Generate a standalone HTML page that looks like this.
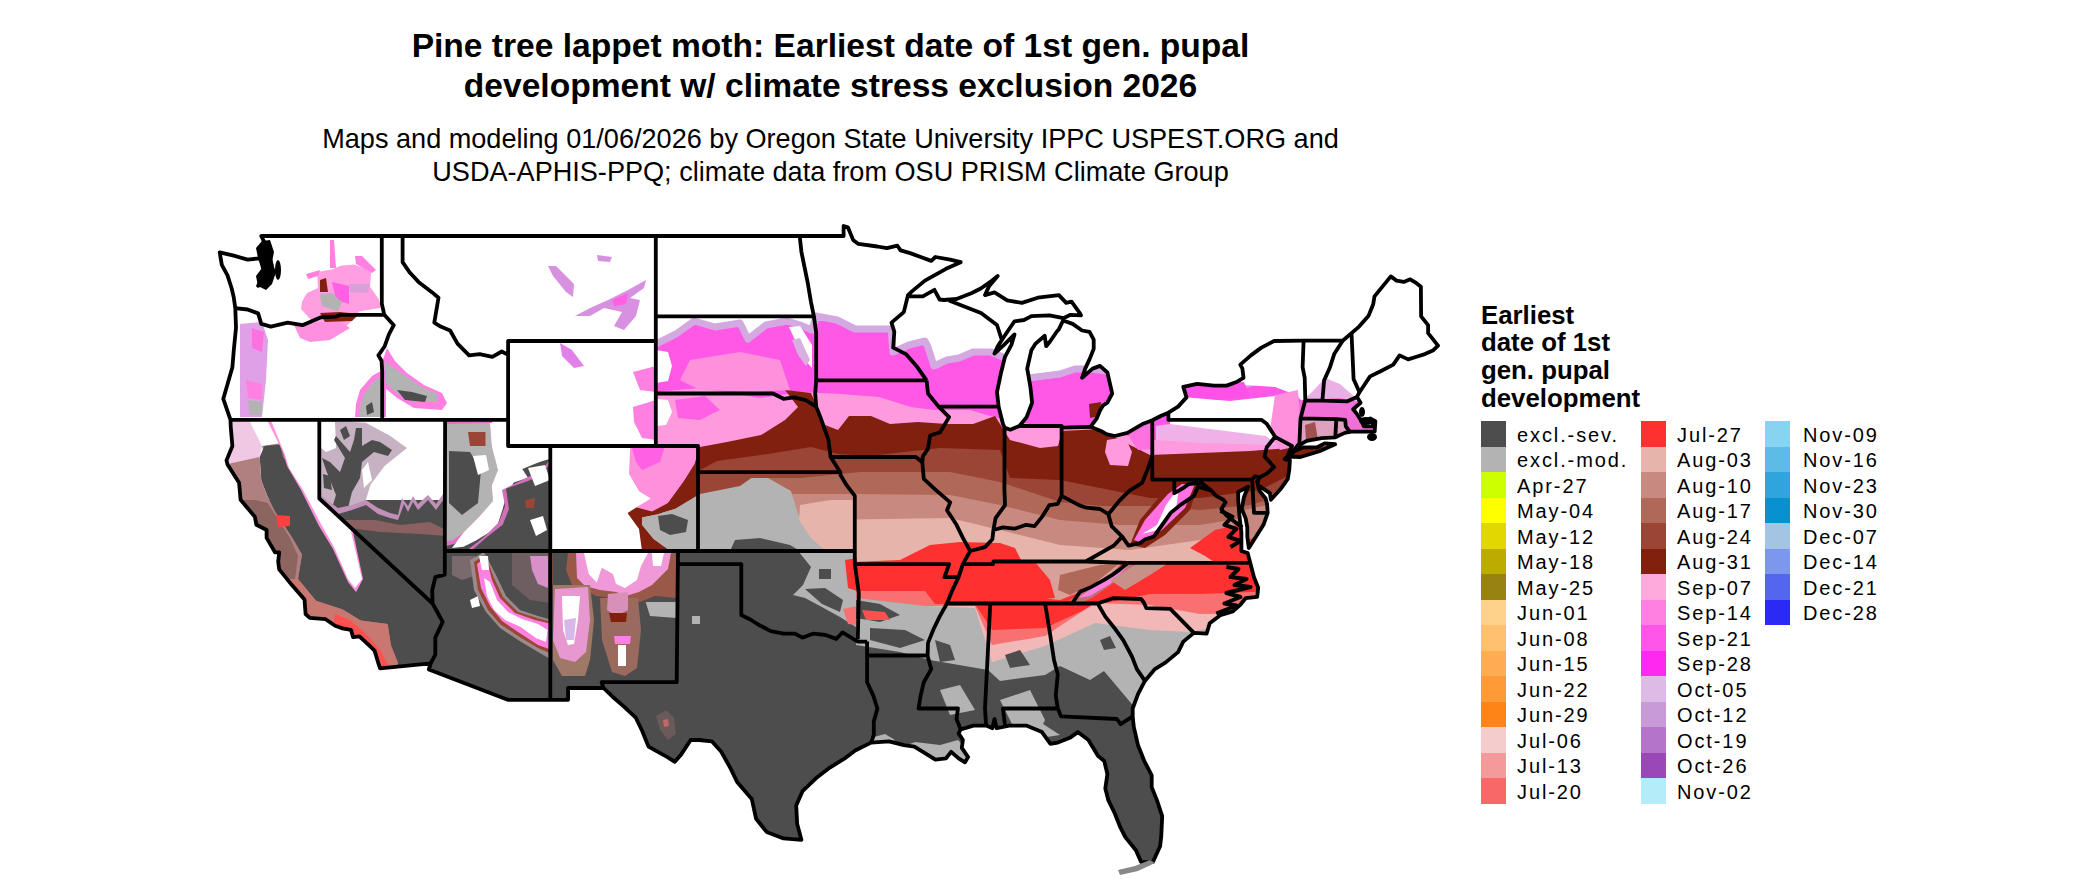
<!DOCTYPE html>
<html><head><meta charset="utf-8"><style>
html,body{margin:0;padding:0;background:#fff;}
body{width:2100px;height:892px;position:relative;overflow:hidden;font-family:"Liberation Sans",sans-serif;}
.t{position:absolute;white-space:nowrap;color:#000;}
.title{font-weight:bold;font-size:33.6px;left:0;width:1661px;text-align:center;}
.sub{font-size:27.1px;left:0;width:1661px;text-align:center;color:#000;}
.lt{position:absolute;left:1481px;font-weight:bold;font-size:25.8px;line-height:27.9px;top:301.5px;}
.sw{position:absolute;width:25px;height:25.6px;}
.lb{position:absolute;font-size:20px;letter-spacing:1.9px;line-height:20px;white-space:nowrap;color:#000;}
svg{position:absolute;left:0;top:0;}
</style></head><body>
<div class="t title" style="top:26.8px">Pine tree lappet moth: Earliest date of 1st gen. pupal</div>
<div class="t title" style="top:66.8px">development w/ climate stress exclusion 2026</div>
<div class="t sub" style="top:122.8px">Maps and modeling 01/06/2026 by Oregon State University IPPC USPEST.ORG and</div>
<div class="t sub" style="top:155.9px">USDA-APHIS-PPQ; climate data from OSU PRISM Climate Group</div>
<svg width="2100" height="892" viewBox="0 0 2100 892">
<defs><clipPath id="us"><path d="M261.3 236.0L843.6 236.0L843.6 226.0L847.9 227.3L853.1 239.9L858.4 243.9L877.4 246.5L886.9 248.1L897.4 245.7L900.6 250.4L910.1 253.1L920.7 257.0L931.2 260.9L935.4 257.0L950.2 259.6L960.7 262.2L946.0 268.8L924.9 280.6L912.2 291.1L908.0 295.1L910.1 296.4L922.8 296.4L934.4 289.8L939.6 299.5L943.9 300.0L956.5 299.0L971.3 293.2L980.8 288.5L990.3 281.9L997.7 275.9L989.2 285.9L985.0 295.1L994.5 292.4L1007.2 300.3L1021.9 302.9L1037.8 297.7L1058.9 295.1L1066.2 302.9L1071.5 301.6L1080.0 313.4L1081.0 315.3L1070.5 314.8L1063.5 318.2L1049.4 315.3L1031.4 316.1L1024.0 320.0L1014.5 321.3L1008.2 330.5L1002.9 338.4L997.7 346.2L994.5 353.6L1004.0 344.9L1014.5 334.4L1011.4 344.9L1005.0 356.8L1000.8 373.8L997.0 392.2L998.7 406.9L1002.9 423.7L1004.6 427.6L1010.3 429.7L1019.4 426.0L1026.6 417.1L1032.1 402.7L1030.4 386.9L1027.2 368.6L1031.4 350.2L1035.6 343.6L1044.7 335.8L1046.2 346.2L1050.4 341.0L1056.7 331.8L1058.9 329.2L1063.1 320.5L1072.6 323.9L1082.1 330.5L1089.5 331.8L1093.7 339.7L1093.7 348.9L1089.5 359.4L1085.2 368.6L1082.1 377.8L1092.6 368.6L1100.0 365.9L1107.4 372.5L1109.5 381.7L1112.2 393.5L1107.4 402.7L1103.2 405.3L1100.0 410.6L1096.8 418.4L1090.5 426.8L1102.1 431.6L1106.3 434.2L1114.8 436.0L1127.4 432.9L1143.3 423.7L1152.3 420.3L1161.2 415.8L1168.4 412.7L1178.1 406.6L1186.5 397.4L1183.3 386.9L1197.1 383.8L1213.9 385.6L1226.6 385.6L1237.2 381.7L1243.5 377.8L1242.4 368.6L1240.3 364.6L1250.9 355.4L1261.4 347.6L1274.1 341.0L1303.6 340.7L1342.7 340.7L1351.5 333.1L1359.1 326.6L1368.4 316.1L1373.2 304.2L1374.5 296.4L1390.8 276.4L1396.5 280.6L1403.8 281.9L1410.2 279.3L1416.5 283.2L1420.9 286.7L1421.1 316.3L1428.1 325.2L1428.1 333.1L1431.3 337.1L1438.0 345.7L1433.4 350.2L1424.9 354.1L1416.5 356.8L1408.1 359.4L1399.6 355.4L1393.3 364.6L1380.6 371.2L1370.1 376.4L1364.8 384.3L1359.5 392.2L1357.0 396.9L1360.6 402.7L1353.2 409.2L1356.4 413.2L1361.6 421.1L1363.8 426.3L1374.3 426.3L1370.1 418.4L1375.4 421.1L1374.7 431.6L1361.6 431.6L1351.1 431.6L1344.8 432.9L1335.3 437.3L1321.6 438.1L1306.8 440.8L1297.3 446.0L1294.1 449.9L1289.9 453.9L1284.6 459.1L1289.9 460.4L1289.3 469.6L1287.8 478.8L1280.4 489.3L1270.9 499.8L1269.9 493.2L1258.2 485.4L1257.2 481.4L1259.3 490.6L1265.6 498.5L1267.1 504.3L1267.7 512.9L1263.5 524.8L1256.1 536.6L1248.8 547.9L1247.3 536.6L1247.3 527.4L1245.6 518.2L1241.8 509.0L1243.9 497.2L1248.1 486.7L1238.2 491.9L1238.2 499.8L1239.3 514.2L1240.3 523.4L1241.4 532.6L1241.4 541.8L1241.4 551.0L1247.7 553.1L1250.2 562.8L1254.0 577.2L1258.2 587.8L1257.2 596.9L1245.6 598.2L1240.3 604.8L1232.9 611.4L1220.3 615.3L1209.7 623.2L1206.6 633.7L1193.9 632.9L1183.3 641.6L1178.1 652.1L1165.4 662.6L1154.9 669.1L1144.9 680.9L1138.0 694.1L1132.7 708.5L1132.7 716.4L1133.8 726.9L1138.0 745.2L1144.3 761.0L1151.7 775.4L1151.7 787.2L1157.0 800.4L1162.2 816.1L1161.2 837.1L1160.1 846.3L1155.9 855.5L1152.8 862.1L1141.1 862.1L1135.9 850.2L1125.3 837.1L1120.0 826.6L1114.8 813.5L1108.4 800.4L1105.3 788.6L1107.4 774.1L1104.2 761.0L1097.9 755.8L1088.4 740.0L1077.8 732.1L1070.5 737.4L1057.8 742.6L1050.4 743.9L1042.0 732.1L1026.2 725.6L1009.3 725.6L996.6 728.2L994.5 719.0L992.4 728.2L986.1 725.6L973.4 725.6L960.7 729.5L958.6 733.4L962.9 740.0L961.8 747.9L968.1 757.1L965.0 762.3L958.6 758.4L951.2 751.8L946.0 758.4L935.4 759.7L924.9 753.1L914.3 746.6L903.8 745.2L889.0 741.3L871.1 742.6L855.2 750.5L844.7 758.4L829.9 767.6L816.2 778.1L802.5 791.2L796.2 805.6L797.2 824.0L801.4 839.8L783.5 838.4L766.6 831.9L756.1 818.8L751.8 799.1L737.1 782.0L730.8 768.9L721.3 751.8L711.8 741.3L699.1 740.0L690.7 740.0L681.2 754.4L674.8 761.8L667.4 757.1L648.5 746.6L642.1 730.8L635.8 717.7L623.1 705.9L612.6 696.7L603.5 688.0L568.1 688.0L568.1 699.8L507.7 699.8L428.8 669.4L430.7 663.4L380.1 668.3L378.4 663.4L374.6 650.7L367.8 644.2L359.4 636.3L353.1 637.1L350.9 629.8L342.5 628.4L335.1 625.8L325.6 619.2L309.8 617.9L305.6 614.0L304.5 599.6L291.9 585.1L279.2 569.4L278.2 561.5L279.2 552.3L275.0 552.3L266.6 537.9L266.6 530.0L256.4 524.8L254.9 516.9L240.6 499.8L239.1 482.8L227.5 464.4L226.5 460.4L232.4 446.0L230.7 426.3L230.5 419.8L223.3 398.8L227.5 384.3L232.4 367.2L233.8 350.2L236.0 327.9L235.3 308.2L233.8 297.7L231.7 288.5L227.5 275.4L221.8 264.9L219.7 252.3L233.8 255.7L247.6 259.6L260.2 258.3L264.4 272.8L258.1 285.9L268.7 280.6L271.8 264.9L267.6 249.1ZM1289.5 456.5L1300.5 457.0L1319.4 451.2L1335.1 444.2L1324.7 443.4L1317.3 447.3L1303.6 447.3L1294.1 451.2L1289.5 456.5Z"/></clipPath></defs>
<g clip-path="url(#us)">
<path fill="#ff58e6" d="M656 344L676 334L694 321L715 327L740 323L748 339L766 325L787 321L800 325L812 330L816 316L837 320L855 329L891 329L893 352L909 345L925 341L928 347L934 366L947 360L959 358L973 352L991 352L1010 360L1028 378L1060 374L1075 369L1091 369L1107 371L1130 400L1180 388L1244 385L1260 380L1300 340L1320 330L1460 330L1460 900L677 900L677 551L628 551L628 447L656 447L656 300Z"/>
<path fill="none" stroke="#d4a8e0" stroke-width="7" stroke-linejoin="round" d="M656 344L676 334L694 321L715 327L740 323L748 339L766 325L787 321L800 325L812 330L816 316L837 320L855 329L891 329L893 352L909 345L925 341L928 347L934 366L947 360L959 358L973 352L991 352L1010 360L1028 378L1060 374L1075 369L1091 369L1107 371L1130 400L1180 388L1244 385L1260 380L1300 340L1320 330L1460 330"/>
<path fill="#ff9ade" d="M656 392L700 388L760 398L800 392L840 394L879 397L911 407L934 410L970 410L997 418L1030 424L1060 425L1100 430L1150 440L1200 440L1260 440L1300 440L1460 440L1460 900L677 900L677 551L628 551L628 447L656 447L656 300Z"/>
<path fill="#822010" d="M656 515L668 503L684 481L694 465L700 447L727 442L761 435L785 420L798 407L785 390L811 393L825 425L838 430L849 416L871 416L890 424L918 422L947 424L973 424L995 416L1010 440L1040 448L1058 446L1062 431L1100 429L1112 436L1150 455L1200 453L1250 451L1290 448L1305 445L1340 440L1460 440L1460 900L677 900L677 551L628 551L628 447L656 447L656 300Z"/>
<path fill="#9a4535" d="M656 530L700 470L717 461L768 454L811 447L838 454L869 456L940 448L1000 450L1010 478L1060 480L1120 492L1150 498L1200 498L1260 490L1300 470L1460 470L1460 900L677 900L677 551L628 551L628 447L656 447L656 300Z"/>
<path fill="#b06858" d="M656 545L700 484L760 478L800 478L860 472L950 472L1000 482L1060 502L1100 506L1150 506L1200 510L1250 505L1300 490L1460 490L1460 900L677 900L677 551L628 551L628 447L656 447L656 300Z"/>
<path fill="#c88a80" d="M656 560L700 500L760 494L850 494L950 495L1000 505L1060 520L1120 525L1200 525L1260 515L1460 515L1460 900L677 900L677 551L628 551L628 447L656 447L656 300Z"/>
<path fill="#e6b4aa" d="M656 575L760 515L820 520L950 518L1000 530L1060 545L1130 550L1200 540L1260 525L1460 525L1460 900L677 900L677 551L628 551L628 447L656 447L656 300Z"/>
<path fill="#ff3030" d="M845 556L852 562L900 560L930 545L960 542L1000 543L1015 548L1022 562L1060 563L1100 563L1150 562L1190 548L1215 530L1250 522L1460 522L1460 900L845 900Z"/>
<path fill="#f87070" d="M845 591L925 591L935 604L975 604L992 630L1045 628L1095 605L1150 594L1200 594L1250 592L1460 592L1460 900L845 900Z"/>
<path fill="#f2b8b8" d="M845 610L925 606L975 606L992 645L1045 636L1095 603L1150 605L1200 614L1260 614L1460 614L1460 900L845 900Z"/>
<path fill="#b3b3b3" d="M856 598L925 606L975 608L992 662L1045 646L1095 623L1150 630L1190 632L1240 622L1460 622L1460 900L856 900Z"/>
<path fill="#ffffff" d="M789 327L800 326L812 345L812 368L805 360L795 340Z"/>
<path fill="#d8b0e0" d="M792 340L800 338L810 360L806 366L798 355Z"/>
<path fill="#ffffff" d="M656 350L668 352L672 366L668 381L656 383Z"/>
<path fill="#ffffff" d="M656 399L668 400L672 412L666 425L656 426Z"/>
<path fill="#ff90dc" d="M690 360L740 352L780 360L790 390L760 392L700 390L680 380Z"/>
<path fill="#ff60e4" d="M675 400L705 396L720 410L700 420L678 418Z"/>
<path fill="#b3b3b3" d="M656 516L694 494L734 478L768 478L791 491L798 514L811 538L825 550L853 552L853 556L656 556Z"/>
<path fill="#4d4d4d" d="M628 551L799 551L856 551L856 645L900 652L930 660L988 670L1000 681L1045 675L1060 666L1090 680L1104 671L1120 690L1141 715L1160 735L1460 735L1460 900L628 900Z"/>
<path fill="#b3b3b3" d="M799 552L856 552L856 627L840 617L820 606L805 598L793 595L803 585L811 567Z"/>
<path fill="#4d4d4d" d="M819 569L831 569L831 579L819 579Z"/>
<path fill="#4d4d4d" d="M805 589L825 588L843 600L840 612L822 604Z"/>
<path fill="#ff3030" d="M845 560L857 558L857 591L848 588Z"/>
<path fill="#f87070" d="M843 609L857 606L857 625L848 624Z"/>
<path fill="#4d4d4d" d="M856 600L880 604L900 615L880 622L856 618Z"/>
<path fill="#4d4d4d" d="M870 628L905 630L925 640L900 648L870 640Z"/>
<path fill="#ff5050" d="M862 610L885 612L890 620L866 620Z"/>
<path fill="#4d4d4d" d="M730 551L735 540L760 538L790 545L800 551Z"/>
<path fill="#9a4535" d="M698 472L760 472L740 486L700 494L698 494Z"/>
<path fill="#e6b4aa" d="M799 520L811 538L825 550L853 552L853 500L830 500L800 505Z"/>
<path fill="#4d4d4d" d="M658 516L672 514L688 520L686 532L670 535L660 530Z"/>
<path fill="#4d4d4d" d="M935 640L950 645L955 660L940 662Z"/>
<path fill="#4d4d4d" d="M1005 655L1020 650L1030 665L1010 668Z"/>
<path fill="#4d4d4d" d="M1100 640L1110 636L1116 648L1104 650Z"/>
<path fill="#b3b3b3" d="M1000 700L1030 690L1045 720L1035 740L1015 730Z"/>
<path fill="#b3b3b3" d="M940 690L960 685L975 710L950 715Z"/>
<path fill="#ffffff" d="M1240 330L1300 300L1460 260L1460 395L1356 401L1340 385L1325 378L1312 392L1302 401L1296 395L1275 387L1244 385L1230 370Z"/>
<path fill="#ffffff" d="M1170 396L1230 401L1275 396L1296 400L1296 428L1266 441L1230 438L1200 440L1170 430Z"/>
<path fill="#ff50e8" d="M1183 385L1244 382L1250 396L1220 400L1183 396Z"/>
<path fill="#ff90dc" d="M1275 395L1298 390L1302 445L1280 450L1270 430Z"/>
<path fill="#f0b0e8" d="M1156 426L1170 424L1266 436L1276 445L1200 443L1156 440Z"/>
<path fill="#822010" d="M1130 545L1140 520L1165 490L1185 478L1200 480L1190 510L1165 535L1145 548Z"/>
<path fill="#ff70e0" d="M1134 540L1145 520L1168 494L1182 484L1195 484L1185 508L1162 530L1143 543Z"/>
<path fill="#ffffff" d="M1142 534L1157 525L1166 505L1179 487L1176 510L1158 530Z"/>
<path fill="#c07070" d="M1070 600L1090 585L1110 572L1128 562L1135 566L1115 582L1092 598L1075 606Z"/>
<path fill="#ff80e0" d="M1078 598L1098 584L1118 572L1128 566L1110 584L1090 596Z"/>
<path fill="#ff9ade" d="M1107 440L1125 437L1132 452L1128 466L1110 465L1105 452Z"/>
<path fill="#ff70e0" d="M1128 424L1150 420L1152 449L1138 450L1130 438Z"/>
<path fill="#822010" d="M1089 404L1101 402L1100 416L1090 418Z"/>
<path fill="#4d4d4d" d="M236 440L319 420L446 420L491 427L497 467L491 498L505 490L520 470L549 458L551 551L677 551L677 900L200 900L200 440Z"/>
<path fill="#ffffff" d="M220 418L322 418L320 500L260 500L220 470Z"/>
<path fill="#f0c8e4" d="M200 418L248 418L262 446L259.7 457L250 470L200 470Z"/>
<path fill="#a07878" d="M262 446L282 443L286 457L294 468L300 477.7L308 488.6L316 502.8L324 515L332 528L339.6 540.5L346 554.6L350 580L354 592L330 600L298 579Z"/>
<path fill="#4d4d4d" d="M264.4 446L280 444.7L283 457L291 468L297.4 477.7L305 488.6L313 502.8L321 515L329 528L336.6 540.5L343 554.6L348 579L355 590L362 580L352 527L321 499L445 560L445 700L330 700L298 579L302 554.6L291 535.7L275.4 512L267.6 496.5L261.3 480.8L259.7 457Z"/>
<path fill="#b08080" d="M200 470L259.7 457L261.3 480.8L267.6 496.5L275.4 512L291 535.7L302 554.6L298 579L316 600.7L342.7 609.6L360.7 620.4L387.6 624L391 645.5L398 663L380 700L200 700Z"/>
<path fill="#8c6460" d="M200 500L255 500L267.6 503L275.4 515L290 538L298 556L295 579L200 579Z"/>
<path fill="#c87870" d="M280 579L298 579L316 600.7L342.7 609.6L360.7 620.4L387.6 624L391 645.5L398 663L380 700L280 700Z"/>
<path fill="#ff5050" d="M335 614L350 620L366 634L380 650L390 668L360 680L330 640Z"/>
<path fill="#ff4040" d="M276 515L290 516L290 526L278 527Z"/>
<path fill="#ff90e0" d="M266 418L322 418L321 499L352 527L363 579L356 592L348 582L333 549L319 526L309 506L301 490L294 478L287 466L283 452Z"/>
<path fill="#ffffff" d="M270 418L320 418L320 499L350 527L362 579L355 588L348 579L334 547L321 524L311 505L303 490L296 479L289 468L285 455Z"/>
<path fill="#ffffff" d="M320.0 499.1L320.9 500.0L446.0 500.0L446.0 420.0L320.0 420.0Z"/>
<path fill="#c6b2c2" d="M320.0 499.0L324.8 503.6L340.4 517.9L378.5 513.5L365.7 500.7L370.5 484.8L384.8 465.7L407.0 448.0L389.6 435.5L365.7 422.8L320.0 420.0Z"/>
<path fill="#ffffff" d="M321.0 448.0L326.0 452.0L336.0 448.0L335.0 422.0L321.0 422.0Z"/>
<path fill="#ffffff" d="M364.0 488.0L372.0 480.0L368.0 462.0L362.0 470.0Z"/>
<path fill="#4d4d4d" d="M340.0 514.0L348.0 508.0L352.0 492.0L360.0 478.0L362.0 462.0L374.0 452.0L388.0 456.0L392.0 450.0L380.0 442.0L372.0 440.0L362.0 446.0L362.0 428.0L356.0 428.0L354.0 440.0L350.0 452.0L336.0 436.0L334.0 440.0L345.0 458.0L340.0 472.0L330.0 462.0L322.0 458.0L326.0 470.0L336.0 495.0L332.0 508.0Z"/>
<path fill="#4d4d4d" d="M344.0 440.0L350.0 436.0L346.0 426.0L340.0 430.0Z"/>
<path fill="#4d4d4d" d="M324.0 488.0L332.0 490.0L330.0 476.0L323.0 474.0Z"/>
<path fill="#c090b8" d="M320.0 499.1L342.7 520.0L446.0 520.0L446.0 490.0L436.0 504.0L428.0 495.0L418.0 504.0L413.0 496.0L408.0 506.0L402.0 498.0L398.0 515.0L390.0 513.0L378.0 508.0L366.0 500.0L352.0 505.0L338.0 508.0L320.0 495.0Z"/>
<path fill="#4d4d4d" d="M320.0 499.1L386.1 560.0L446.0 560.0L446.0 496.0L436.0 510.0L428.0 500.0L418.0 510.0L413.0 502.0L408.0 512.0L404.0 504.0L398.0 520.0L390.0 518.0L378.0 514.0L366.0 505.0L352.0 510.0L338.0 514.0L320.0 499.0Z"/>
<path fill="#8a6060" d="M348.2 525.1L351.6 528.2L380.0 532.0L420.0 534.0L446.0 536.0L446.0 530.0L430.0 522.0L400.0 525.0L375.0 520.0L345.0 520.0Z"/>
<path fill="#e070c8" d="M446 421L492 421L494 446L500 470L494 486L496 501L482 518L466 534L454 544L446 546Z"/>
<path fill="#b3b3b3" d="M446 424L490 423L491.8 446.4L498 470L491.8 485.6L493 501L479 517L463.5 532.6L452.5 540.5L446 541Z"/>
<path fill="#4d4d4d" d="M449 451L470 452L481 470L478 503L462 515L449 503Z"/>
<path fill="#9a4535" d="M468 432L485.5 432L485.5 446L470 446Z"/>
<path fill="#ffffff" d="M473 456L486 455L489 470L478 475Z"/>
<path fill="#ffffff" d="M490 423L507.5 423L507.5 446L549.8 446L549.8 459L528 465L521.6 468L528 477.7L513.7 482.5L506 496.6L502.7 509L496.5 528L476 540.5L463.5 546.8L452 548L463.5 532.6L479 517L493 501L491.8 485.6L498 470L491.8 446.4Z"/>
<path fill="#d070b8" d="M502 490L526 478L542 470L551 458L551 551L466 551L484 537L499 522L505 506Z"/>
<path fill="#4d4d4d" d="M506 488.7L528 481L542 474.6L551 462L551 551L471 551L487 537L502.7 524.8L509 509Z"/>
<path fill="#ffffff" d="M528 468L545 465L550 480L535 486Z"/>
<path fill="#ffffff" d="M530 520L543 516L547 530L536 536Z"/>
<path fill="#9a4535" d="M525 500L535 498L534 508L526 508Z"/>
<path fill="#ff90dc" d="M549 444L700 444L694 465L684 481L668 503L652 511.6L633 513L628 520L549 520Z"/>
<path fill="#ff60e4" d="M632 448L665 446L660 462L642 470L636 462Z"/>
<path fill="#822010" d="M628 505L652 511.6L668 503L684 481L694 465L700 466L700 494L675.5 508.7L656.6 514.5L642 517.5L642 524.7L653.7 539L664 546.6L670 551L628 551Z"/>
<path fill="#b3b3b3" d="M642 517.5L656.6 514.5L675.5 508.7L700 494L700 551L664 546.6L653.7 539L642 524.7Z"/>
<path fill="#4d4d4d" d="M658 516L672 514L688 520L686 532L670 535L660 530Z"/>
<path fill="#ffffff" d="M549 444L630.4 444L629 473.7L639 491.2L650.8 498.5L639 505.8L627.5 513L639 529L642 551L549 551Z"/>
<path fill="#ff80e0" d="M387 348L395 361L407 373L424 385L442 393L447 403L442 410L414 408L397 398L385 388L380 368Z"/>
<path fill="#b3b3b3" d="M385 362L400 372L420 386L437 394L437 402L415 402L395 392L383 380Z"/>
<path fill="#4d4d4d" d="M397 390L412 392L427 396L425 402L405 400Z"/>
<path fill="#ff80e0" d="M360 390L372 376L386 368L386 417L355 417L356 404Z"/>
<path fill="#b3b3b3" d="M364 394L374 381L382 376L382 417L360 417L360 406Z"/>
<path fill="#4d4d4d" d="M366 406L372 402L374 412L367 415Z"/>
<path fill="#ff9ee0" d="M302 301.6L307 293L318 288L317 272L332 269.5L340.5 265.8L354 264.6L371.3 270.8L370 286.8L378.7 299L381 307.7L359 311.5L351.6 321.3L343 328.7L322 331L309.7 328.7L311 320L301 309Z"/>
<path fill="#ff60e4" d="M332 282L349 286L349 304L336 300Z"/>
<path fill="#d8a0d8" d="M349 284L370 284L368 293L350 292Z"/>
<path fill="#b3b3b3" d="M319.5 294L332 293L341.7 302L338 311.5L322 306Z"/>
<path fill="#822010" d="M320 313L340 312L359 314L352 321L325 322Z"/>
<path fill="#822010" d="M320 280L326 278L328 292L320 292Z"/>
<path fill="#ff80e0" d="M330 240L334 240L336 268L330 268Z"/>
<path fill="#ff80e0" d="M306 274L320 270L318 276L308 279Z"/>
<path fill="#ff80e0" d="M355 256L362 256L376 270L372 273L356 264Z"/>
<path fill="#ff90e0" d="M293 323L340 322L350 328L330 340L310 342L300 338Z"/>
<path fill="#e0a0e8" d="M240 324L262 322L268 340L266 380L262 417L240 417Z"/>
<path fill="#ff70e0" d="M252 328L264 332L262 352L252 348Z"/>
<path fill="#ff80e0" d="M246 380L262 384L262 400L248 398Z"/>
<path fill="#b3b3b3" d="M248 400L262 402L262 415L250 415Z"/>
<path fill="#d890e0" d="M575 316L590 308L608 300L628 290L646 280L644 288L630 298L640 300L636 316L624 330L614 326L622 312L604 308L590 316Z"/>
<path fill="#ff60e4" d="M612 300L628 293L626 304L614 306Z"/>
<path fill="#d890e0" d="M548 266L556 266L574 284L573 297L566 292L553 276Z"/>
<path fill="#d890e0" d="M597 255L612 257L610 262L598 261Z"/>
<path fill="#e080e8" d="M560 343L572 350L584 366L574 368L562 356Z"/>
<path fill="#ff80e0" d="M633 372L656 366L656 392L640 390Z"/>
<path fill="#ff80e0" d="M633 407L656 400L656 440L642 438L634 422Z"/>
<path fill="#6e5e62" d="M512 553L550 553L550 603L530 600L512 585Z"/>
<path fill="#d890c8" d="M530 556L548 556L548 588L538 584L532 570Z"/>
<path fill="#7a6a6e" d="M452 556L475 556L478 575L462 580L452 575Z"/>
<path fill="#ffffff" d="M470 600L478 596L480 606L472 608Z"/>
<path fill="#9a8a8a" d="M470 560L484 552L496 575L506 596L520 610L538 616L552 620L552 660L538 652L518 640L500 628L486 612L474 590Z"/>
<path fill="#9a4535" d="M474 562L485 555L494 578L503 597L518 612L537 618L552 622L552 654L538 648L518 636L500 624L488 610L478 590Z"/>
<path fill="#ff80e0" d="M477 564L486 557L492 580L500 598L515 613L535 620L552 624L552 650L538 645L518 632L502 621L490 606L481 588Z"/>
<path fill="#ffffff" d="M484 578L490 582L497 600L508 612L522 619L538 624L547.6 630L546 642L535.8 638L520.7 627L505 620L494 610L487 596Z"/>
<path fill="#ffffff" d="M479 556L488 556L489 570L482 570Z"/>
<path fill="#9a5848" d="M552 552L677 552L677 598L655 596L640 602L626 604L612 598L596 596L585 590L572 590L552 585Z"/>
<path fill="#4d4d4d" d="M553 553L568 553L566 570L572 585L553 585Z"/>
<path fill="#f098d8" d="M576 553L671 553L668 569L652 585L639 592L626 596L616 592L600 590L585 586L577 578Z"/>
<path fill="#ffffff" d="M584 553L648 553L641 566L637 580L625 588L616 584L613 574L601.7 567.8L596.8 582.4L588.7 574Z"/>
<path fill="#ffffff" d="M652 553L664 553L661 566L653 566Z"/>
<path fill="#b3b3b3" d="M645.6 602L676.5 602L676.5 618L650 616Z"/>
<path fill="#a07868" d="M553 585L590 585L594 620L590 660L585 676L562 676L553 660Z"/>
<path fill="#e898d0" d="M555 589L588 587L590 620L586 652L575 662L560 658L553 640Z"/>
<path fill="#ffffff" d="M562 596L580 596L578 620L574 644L568 645L563 630Z"/>
<path fill="#d8b8e8" d="M564 620L576 618L574 640L566 640Z"/>
<path fill="#9a6a5e" d="M600 598L638 598L641 630L637 668L625 676L612 672L602 640Z"/>
<path fill="#d890b8" d="M608 594L628 592L628 610L616 616L607 610Z"/>
<path fill="#822010" d="M609 613L627 613L626 622L611 622Z"/>
<path fill="#ffffff" d="M618 645L626 645L626 666L618 666Z"/>
<path fill="#ff80e0" d="M614 636L631 636L630 644L615 644Z"/>
<path fill="#ffffff" d="M1302 380L1356 380L1356 401L1302 401Z"/>
<path fill="#eab0e6" d="M1312 392L1325 378L1340 384L1356 398L1356 401L1302 401Z"/>
<path fill="#f070d8" d="M1300 400L1340 398L1356 401L1375 415L1380 445L1300 445Z"/>
<path fill="#e0a0c0" d="M1300 419L1345 419L1345 445L1300 448Z"/>
<path fill="#a05050" d="M1305 425L1315 422L1318 440L1306 440Z"/>
<path fill="#e6b4aa" d="M1150 548L1190 548L1205 556L1214 562L1150 562Z"/>
<path fill="#c88a80" d="M1244 510L1268 505L1268 552L1246 552Z"/>
<path fill="#ff3030" d="M1246 540L1262 536L1250 552Z"/>
<path fill="#d8a098" d="M1035 562L1123 562L1110 575L1085 590L1060 600L1040 598L1050 580Z"/>
<path fill="#b06858" d="M1060 575L1100 565L1120 563L1095 583L1070 595L1058 590Z"/>
<path fill="#ff3030" d="M1035 585L1050 580L1055 598L1035 600Z"/>
<path fill="#c89088" d="M1110 580L1140 562L1170 562L1150 575L1125 590Z"/>
<path fill="#b3b3b3" d="M895 750L915 742L940 745L958 740L970 752L972 770L955 765L930 762L905 758Z"/>
<path fill="#b3b3b3" d="M870 738L885 734L895 740L880 746Z"/>
<path fill="#b3b3b3" d="M1000 725L1040 722L1060 735L1040 738L1010 735Z"/>
<path fill="#ffa050" d="M968 735L985 730L990 740L975 745Z"/>
<path fill="#ff9030" d="M1150 710L1185 675L1195 665L1200 670L1160 715Z"/>
<path fill="#6a5a5a" d="M656 716L666 710L674 718L676 734L668 740L660 730Z"/>
<path fill="#c06868" d="M663 720L668 719L669 726L664 727Z"/>
<path fill="#b3b3b3" d="M692 616L700 616L700 624L692 624Z"/>
</g>
<path d="M261.3 236.0L843.6 236.0L843.6 226.0L847.9 227.3L853.1 239.9L858.4 243.9L877.4 246.5L886.9 248.1L897.4 245.7L900.6 250.4L910.1 253.1L920.7 257.0L931.2 260.9L935.4 257.0L950.2 259.6L960.7 262.2L946.0 268.8L924.9 280.6L912.2 291.1L908.0 295.1L910.1 296.4L922.8 296.4L934.4 289.8L939.6 299.5L943.9 300.0L956.5 299.0L971.3 293.2L980.8 288.5L990.3 281.9L997.7 275.9L989.2 285.9L985.0 295.1L994.5 292.4L1007.2 300.3L1021.9 302.9L1037.8 297.7L1058.9 295.1L1066.2 302.9L1071.5 301.6L1080.0 313.4L1081.0 315.3L1070.5 314.8L1063.5 318.2L1049.4 315.3L1031.4 316.1L1024.0 320.0L1014.5 321.3L1008.2 330.5L1002.9 338.4L997.7 346.2L994.5 353.6L1004.0 344.9L1014.5 334.4L1011.4 344.9L1005.0 356.8L1000.8 373.8L997.0 392.2L998.7 406.9L1002.9 423.7L1004.6 427.6L1010.3 429.7L1019.4 426.0L1026.6 417.1L1032.1 402.7L1030.4 386.9L1027.2 368.6L1031.4 350.2L1035.6 343.6L1044.7 335.8L1046.2 346.2L1050.4 341.0L1056.7 331.8L1058.9 329.2L1063.1 320.5L1072.6 323.9L1082.1 330.5L1089.5 331.8L1093.7 339.7L1093.7 348.9L1089.5 359.4L1085.2 368.6L1082.1 377.8L1092.6 368.6L1100.0 365.9L1107.4 372.5L1109.5 381.7L1112.2 393.5L1107.4 402.7L1103.2 405.3L1100.0 410.6L1096.8 418.4L1090.5 426.8L1102.1 431.6L1106.3 434.2L1114.8 436.0L1127.4 432.9L1143.3 423.7L1152.3 420.3L1161.2 415.8L1168.4 412.7L1178.1 406.6L1186.5 397.4L1183.3 386.9L1197.1 383.8L1213.9 385.6L1226.6 385.6L1237.2 381.7L1243.5 377.8L1242.4 368.6L1240.3 364.6L1250.9 355.4L1261.4 347.6L1274.1 341.0L1303.6 340.7L1342.7 340.7L1351.5 333.1L1359.1 326.6L1368.4 316.1L1373.2 304.2L1374.5 296.4L1390.8 276.4L1396.5 280.6L1403.8 281.9L1410.2 279.3L1416.5 283.2L1420.9 286.7L1421.1 316.3L1428.1 325.2L1428.1 333.1L1431.3 337.1L1438.0 345.7L1433.4 350.2L1424.9 354.1L1416.5 356.8L1408.1 359.4L1399.6 355.4L1393.3 364.6L1380.6 371.2L1370.1 376.4L1364.8 384.3L1359.5 392.2L1357.0 396.9L1360.6 402.7L1353.2 409.2L1356.4 413.2L1361.6 421.1L1363.8 426.3L1374.3 426.3L1370.1 418.4L1375.4 421.1L1374.7 431.6L1361.6 431.6L1351.1 431.6L1344.8 432.9L1335.3 437.3L1321.6 438.1L1306.8 440.8L1297.3 446.0L1294.1 449.9L1289.9 453.9L1284.6 459.1L1289.9 460.4L1289.3 469.6L1287.8 478.8L1280.4 489.3L1270.9 499.8L1269.9 493.2L1258.2 485.4L1257.2 481.4L1259.3 490.6L1265.6 498.5L1267.1 504.3L1267.7 512.9L1263.5 524.8L1256.1 536.6L1248.8 547.9L1247.3 536.6L1247.3 527.4L1245.6 518.2L1241.8 509.0L1243.9 497.2L1248.1 486.7L1238.2 491.9L1238.2 499.8L1239.3 514.2L1240.3 523.4L1241.4 532.6L1241.4 541.8L1241.4 551.0L1247.7 553.1L1250.2 562.8L1254.0 577.2L1258.2 587.8L1257.2 596.9L1245.6 598.2L1240.3 604.8L1232.9 611.4L1220.3 615.3L1209.7 623.2L1206.6 633.7L1193.9 632.9L1183.3 641.6L1178.1 652.1L1165.4 662.6L1154.9 669.1L1144.9 680.9L1138.0 694.1L1132.7 708.5L1132.7 716.4L1133.8 726.9L1138.0 745.2L1144.3 761.0L1151.7 775.4L1151.7 787.2L1157.0 800.4L1162.2 816.1L1161.2 837.1L1160.1 846.3L1155.9 855.5L1152.8 862.1L1141.1 862.1L1135.9 850.2L1125.3 837.1L1120.0 826.6L1114.8 813.5L1108.4 800.4L1105.3 788.6L1107.4 774.1L1104.2 761.0L1097.9 755.8L1088.4 740.0L1077.8 732.1L1070.5 737.4L1057.8 742.6L1050.4 743.9L1042.0 732.1L1026.2 725.6L1009.3 725.6L996.6 728.2L994.5 719.0L992.4 728.2L986.1 725.6L973.4 725.6L960.7 729.5L958.6 733.4L962.9 740.0L961.8 747.9L968.1 757.1L965.0 762.3L958.6 758.4L951.2 751.8L946.0 758.4L935.4 759.7L924.9 753.1L914.3 746.6L903.8 745.2L889.0 741.3L871.1 742.6L855.2 750.5L844.7 758.4L829.9 767.6L816.2 778.1L802.5 791.2L796.2 805.6L797.2 824.0L801.4 839.8L783.5 838.4L766.6 831.9L756.1 818.8L751.8 799.1L737.1 782.0L730.8 768.9L721.3 751.8L711.8 741.3L699.1 740.0L690.7 740.0L681.2 754.4L674.8 761.8L667.4 757.1L648.5 746.6L642.1 730.8L635.8 717.7L623.1 705.9L612.6 696.7L603.5 688.0L568.1 688.0L568.1 699.8L507.7 699.8L428.8 669.4L430.7 663.4L380.1 668.3L378.4 663.4L374.6 650.7L367.8 644.2L359.4 636.3L353.1 637.1L350.9 629.8L342.5 628.4L335.1 625.8L325.6 619.2L309.8 617.9L305.6 614.0L304.5 599.6L291.9 585.1L279.2 569.4L278.2 561.5L279.2 552.3L275.0 552.3L266.6 537.9L266.6 530.0L256.4 524.8L254.9 516.9L240.6 499.8L239.1 482.8L227.5 464.4L226.5 460.4L232.4 446.0L230.7 426.3L230.5 419.8L223.3 398.8L227.5 384.3L232.4 367.2L233.8 350.2L236.0 327.9L235.3 308.2L233.8 297.7L231.7 288.5L227.5 275.4L221.8 264.9L219.7 252.3L233.8 255.7L247.6 259.6L260.2 258.3L264.4 272.8L258.1 285.9L268.7 280.6L271.8 264.9L267.6 249.1ZM1289.5 456.5L1300.5 457.0L1319.4 451.2L1335.1 444.2L1324.7 443.4L1317.3 447.3L1303.6 447.3L1294.1 451.2L1289.5 456.5Z" fill="none" stroke="#000" stroke-width="3.8" stroke-linejoin="round"/>
<path d="M234.9 308.2L247.6 309.5L258.1 313.4L261.3 323.9L270.8 326.6L287.7 322.6L302.4 325.2L320.4 317.4L336.2 316.6L340.8 314.8L384.3 314.8L381.8 303.7L381.8 236.0M384.3 314.8L393.8 325.2L388.9 334.4L384.7 346.2L378.4 355.4L381.5 360.7L382.2 371.2L382.2 419.8M230.5 419.8L508.1 419.8M319.3 419.8L319.3 498.5L432.6 603.5L442.7 621.9L435.3 637.6L435.3 654.7L430.7 663.4M445.1 419.8L444.8 551.0L444.8 574.6L435.3 577.2L432.2 590.4L432.6 603.5M444.8 551.0L854.8 551.0M854.8 551.0L854.8 564.1L949.1 564.1L944.5 577.2L958.6 577.2M508.1 354.9L508.1 446.0L550.3 446.0M402.6 236.0L402.6 262.2L410.0 272.8L418.5 281.9L432.2 292.4L438.5 297.7L434.3 322.6L440.6 326.6L450.1 330.5L457.5 343.6L469.1 355.4L479.7 354.1L492.3 356.8L501.8 351.5L508.1 354.9M508.1 354.9L508.1 341.0L655.8 341.0M550.3 446.0L550.3 699.8M550.3 446.0L698.0 446.0L698.0 472.2L698.0 551.0M655.8 236.0L655.8 446.0M698.0 472.2L840.3 472.2M678.0 551.0L676.7 682.2L601.6 682.2L603.5 688.0M678.0 564.1L741.3 564.1L741.3 615.0L749.7 619.2L758.2 624.5L770.8 631.1L783.5 633.7L795.1 633.7L802.5 637.6L813.0 633.7L825.7 635.0L836.2 638.9L842.6 632.4L853.1 638.9L857.8 641.6L867.1 641.6M854.8 564.1L858.8 593.0L857.8 639.2M867.1 641.6L867.1 655.5L867.1 682.2L873.2 695.4L877.4 708.5L873.8 721.6L873.8 734.8L871.1 742.6M867.1 655.5L927.6 655.5M854.8 551.0L854.8 495.9L846.8 485.4L840.5 474.9L840.3 472.2L830.6 457.0L828.4 439.4L823.6 426.3L820.4 417.1L816.2 406.6L805.7 400.1L794.1 397.4L783.5 398.8L772.9 393.5L655.8 393.5M816.2 406.6L815.2 393.5L816.2 380.4L816.2 333.1L813.9 316.3L810.9 301.6L807.8 283.2L804.6 267.5L801.4 251.8L799.7 236.0M813.9 316.3L655.8 316.3M816.2 380.4L926.6 380.4M926.6 380.4L916.4 365.9L905.9 354.1L893.2 347.6L894.3 331.8L891.5 322.6L903.8 312.1L908.0 295.1M926.6 380.4L928.0 393.5L938.6 406.6L949.1 417.1L940.1 432.3L930.1 435.5L928.0 448.6L922.8 456.5L922.3 462.3L923.8 478.8L936.5 490.6L950.2 502.4L947.0 510.3L956.5 524.8L962.9 537.9L970.2 551.0L962.9 564.1L958.6 577.2L952.3 590.4L947.0 603.5L939.6 616.6L933.3 629.8L928.0 642.9L927.6 656.0L931.2 669.1L923.8 682.2L920.7 695.4L918.5 708.5L958.0 708.5L956.5 719.0L960.7 729.5M830.6 457.0L915.8 457.0L922.3 462.3M938.8 406.6L998.7 406.6M1004.6 427.6L1004.4 489.3L1005.0 505.1L995.6 518.2L993.4 530.0L992.4 539.2L985.0 547.1L970.2 551.0M1019.4 426.0L1061.6 426.0L1061.6 427.6L1090.5 426.8M1061.6 427.6L1061.6 495.9M1061.6 495.9L1057.8 503.8L1049.4 505.1L1042.0 516.9L1034.6 526.1L1026.2 524.8L1014.5 528.7L1002.9 527.4L993.4 530.0M1061.6 495.9L1078.9 505.1L1086.3 507.7L1100.0 509.0L1108.4 514.2L1119.0 501.1L1129.5 490.6L1142.2 482.8L1147.5 469.6L1152.3 455.5L1152.3 420.3M1108.4 514.2L1111.6 526.1L1122.2 536.6L1113.7 545.7L1085.7 561.5L993.4 561.5L993.0 564.1L962.9 564.1M1122.2 536.6L1128.5 545.7L1140.1 543.1L1145.4 539.2L1153.8 536.6L1162.2 524.8L1170.7 512.9L1180.2 505.1L1193.9 495.9L1198.1 486.7L1211.4 490.6M1211.4 490.6L1201.3 482.8L1188.6 484.1L1183.3 488.0L1174.3 493.2L1174.3 479.6L1152.3 479.6L1152.3 455.5M1211.4 490.6L1216.1 495.9L1223.4 499.8L1225.5 502.4L1221.3 509.0L1226.6 515.6L1235.0 522.1L1242.4 527.4M1250.2 562.8L1127.9 562.8L1085.7 561.5M1127.9 562.8L1120.0 569.4L1112.7 574.6L1104.2 579.9L1089.5 587.8L1080.0 591.7L1072.1 603.5M1072.1 603.5L947.0 603.5M1072.1 603.5L1097.7 603.5L1112.7 598.2L1141.1 599.0L1143.7 602.2L1146.4 608.2L1170.3 608.8L1193.9 632.9M1097.7 603.5L1105.3 616.6L1115.8 629.8L1123.2 640.2L1131.7 656.0L1136.9 669.1L1144.9 680.9M1045.1 603.5L1049.4 629.8L1054.0 659.9L1057.8 674.4L1055.7 695.4L1057.8 708.5L1002.9 708.5L1005.0 725.6M1057.8 708.5L1061.0 716.4L1116.9 719.0L1120.7 724.2L1132.7 716.4M990.3 603.5L985.0 708.5L986.1 725.6M1168.4 412.7L1168.4 419.8L1261.4 419.8L1266.7 423.7L1275.1 436.8L1292.0 446.0L1287.8 455.2M1275.1 436.8L1266.7 447.3L1264.6 456.5L1274.1 467.0L1266.7 473.6L1259.3 477.5L1257.2 482.8M1259.3 477.5L1255.1 476.2L1252.1 479.6L1174.3 479.6M1252.1 479.6L1254.0 512.9L1267.7 512.9M1303.6 340.7L1302.6 367.2L1304.7 377.8L1305.3 400.1L1300.5 418.4L1299.4 443.4L1297.3 446.0M1342.7 340.7L1334.2 354.1L1330.0 367.2L1324.1 380.4L1322.4 400.6M1305.3 400.6L1322.4 400.6L1346.9 401.4L1357.0 396.9M1300.5 418.4L1336.3 419.2L1345.2 419.8L1345.8 426.3L1350.7 432.9M1336.3 419.2L1335.3 437.3M948.9 300.6L981.0 312.9L997.0 325.0L1001.5 338.9M1359.5 392.2L1353.6 379.1L1351.5 333.1" fill="none" stroke="#000" stroke-width="3.8" stroke-linejoin="round"/>
<path fill="none" stroke="#000" stroke-width="4" stroke-linejoin="round" d="M1226.4 567L1238.5 569L1230.5 577L1246.6 579L1234.5 585L1250.6 587L1226.4 593L1240.5 597L1224.4 603.5L1236.5 605.5L1216.3 613.6"/>
<path fill="none" stroke="#000" stroke-width="4" stroke-linejoin="round" d="M1220.4 510.6L1232.5 516.7L1224.4 524.8L1236.5 528.8L1228.4 536.9L1240.5 541L1230.5 547"/>
<g fill="#888">
<path d="M1118 870 L1135 866 L1150 860 L1155 863 L1138 871 L1120 875Z"/>
</g>
<g fill="#000">
<path d="M262 241 L270 240 L274 252 L272 262 L276 272 L272 284 L266 290 L258 286 L256 276 L262 268 L258 258 L256 248Z"/>
<ellipse cx="278" cy="270" rx="3" ry="10"/>
<ellipse cx="1366" cy="421" rx="7" ry="4"/>
<ellipse cx="1372" cy="437" rx="5" ry="4"/>
<ellipse cx="1362" cy="412" rx="3" ry="5"/>
</g>
</svg>
<div class="lt">Earliest<br>date of 1st<br>gen. pupal<br>development</div>
<div class="sw" style="left:1481px;top:421.0px;background:#4d4d4d"></div>
<div class="lb" style="left:1517px;top:424.5px">excl.-sev.</div>
<div class="sw" style="left:1481px;top:446.5px;background:#b3b3b3"></div>
<div class="lb" style="left:1517px;top:450.0px">excl.-mod.</div>
<div class="sw" style="left:1481px;top:472.0px;background:#ccff00"></div>
<div class="lb" style="left:1517px;top:475.5px">Apr-27</div>
<div class="sw" style="left:1481px;top:497.5px;background:#ffff00"></div>
<div class="lb" style="left:1517px;top:501.0px">May-04</div>
<div class="sw" style="left:1481px;top:523.0px;background:#e0d800"></div>
<div class="lb" style="left:1517px;top:526.5px">May-12</div>
<div class="sw" style="left:1481px;top:548.5px;background:#bcac00"></div>
<div class="lb" style="left:1517px;top:552.0px">May-18</div>
<div class="sw" style="left:1481px;top:574.0px;background:#988212"></div>
<div class="lb" style="left:1517px;top:577.5px">May-25</div>
<div class="sw" style="left:1481px;top:599.5px;background:#ffd28c"></div>
<div class="lb" style="left:1517px;top:603.0px">Jun-01</div>
<div class="sw" style="left:1481px;top:625.0px;background:#ffc070"></div>
<div class="lb" style="left:1517px;top:628.5px">Jun-08</div>
<div class="sw" style="left:1481px;top:650.5px;background:#ffac52"></div>
<div class="lb" style="left:1517px;top:654.0px">Jun-15</div>
<div class="sw" style="left:1481px;top:676.0px;background:#ff9a38"></div>
<div class="lb" style="left:1517px;top:679.5px">Jun-22</div>
<div class="sw" style="left:1481px;top:701.5px;background:#ff8418"></div>
<div class="lb" style="left:1517px;top:705.0px">Jun-29</div>
<div class="sw" style="left:1481px;top:727.0px;background:#f4cccc"></div>
<div class="lb" style="left:1517px;top:730.5px">Jul-06</div>
<div class="sw" style="left:1481px;top:752.5px;background:#f49a9a"></div>
<div class="lb" style="left:1517px;top:756.0px">Jul-13</div>
<div class="sw" style="left:1481px;top:778.0px;background:#f86868"></div>
<div class="lb" style="left:1517px;top:781.5px">Jul-20</div>
<div class="sw" style="left:1641px;top:421.0px;background:#ff3030"></div>
<div class="lb" style="left:1677px;top:424.5px">Jul-27</div>
<div class="sw" style="left:1641px;top:446.5px;background:#e6b4aa"></div>
<div class="lb" style="left:1677px;top:450.0px">Aug-03</div>
<div class="sw" style="left:1641px;top:472.0px;background:#c88a80"></div>
<div class="lb" style="left:1677px;top:475.5px">Aug-10</div>
<div class="sw" style="left:1641px;top:497.5px;background:#b06858"></div>
<div class="lb" style="left:1677px;top:501.0px">Aug-17</div>
<div class="sw" style="left:1641px;top:523.0px;background:#9a4535"></div>
<div class="lb" style="left:1677px;top:526.5px">Aug-24</div>
<div class="sw" style="left:1641px;top:548.5px;background:#822010"></div>
<div class="lb" style="left:1677px;top:552.0px">Aug-31</div>
<div class="sw" style="left:1641px;top:574.0px;background:#ffaadc"></div>
<div class="lb" style="left:1677px;top:577.5px">Sep-07</div>
<div class="sw" style="left:1641px;top:599.5px;background:#ff80e0"></div>
<div class="lb" style="left:1677px;top:603.0px">Sep-14</div>
<div class="sw" style="left:1641px;top:625.0px;background:#ff55e8"></div>
<div class="lb" style="left:1677px;top:628.5px">Sep-21</div>
<div class="sw" style="left:1641px;top:650.5px;background:#ff28f0"></div>
<div class="lb" style="left:1677px;top:654.0px">Sep-28</div>
<div class="sw" style="left:1641px;top:676.0px;background:#dcbce6"></div>
<div class="lb" style="left:1677px;top:679.5px">Oct-05</div>
<div class="sw" style="left:1641px;top:701.5px;background:#c89ad6"></div>
<div class="lb" style="left:1677px;top:705.0px">Oct-12</div>
<div class="sw" style="left:1641px;top:727.0px;background:#b474c8"></div>
<div class="lb" style="left:1677px;top:730.5px">Oct-19</div>
<div class="sw" style="left:1641px;top:752.5px;background:#9a48b8"></div>
<div class="lb" style="left:1677px;top:756.0px">Oct-26</div>
<div class="sw" style="left:1641px;top:778.0px;background:#b4ecfa"></div>
<div class="lb" style="left:1677px;top:781.5px">Nov-02</div>
<div class="sw" style="left:1765px;top:421.0px;background:#88d4f0"></div>
<div class="lb" style="left:1803px;top:424.5px">Nov-09</div>
<div class="sw" style="left:1765px;top:446.5px;background:#5cbce6"></div>
<div class="lb" style="left:1803px;top:450.0px">Nov-16</div>
<div class="sw" style="left:1765px;top:472.0px;background:#30a4dc"></div>
<div class="lb" style="left:1803px;top:475.5px">Nov-23</div>
<div class="sw" style="left:1765px;top:497.5px;background:#0890d0"></div>
<div class="lb" style="left:1803px;top:501.0px">Nov-30</div>
<div class="sw" style="left:1765px;top:523.0px;background:#a4c4e4"></div>
<div class="lb" style="left:1803px;top:526.5px">Dec-07</div>
<div class="sw" style="left:1765px;top:548.5px;background:#7c98ec"></div>
<div class="lb" style="left:1803px;top:552.0px">Dec-14</div>
<div class="sw" style="left:1765px;top:574.0px;background:#5466f0"></div>
<div class="lb" style="left:1803px;top:577.5px">Dec-21</div>
<div class="sw" style="left:1765px;top:599.5px;background:#2a2af4"></div>
<div class="lb" style="left:1803px;top:603.0px">Dec-28</div>
</body></html>
